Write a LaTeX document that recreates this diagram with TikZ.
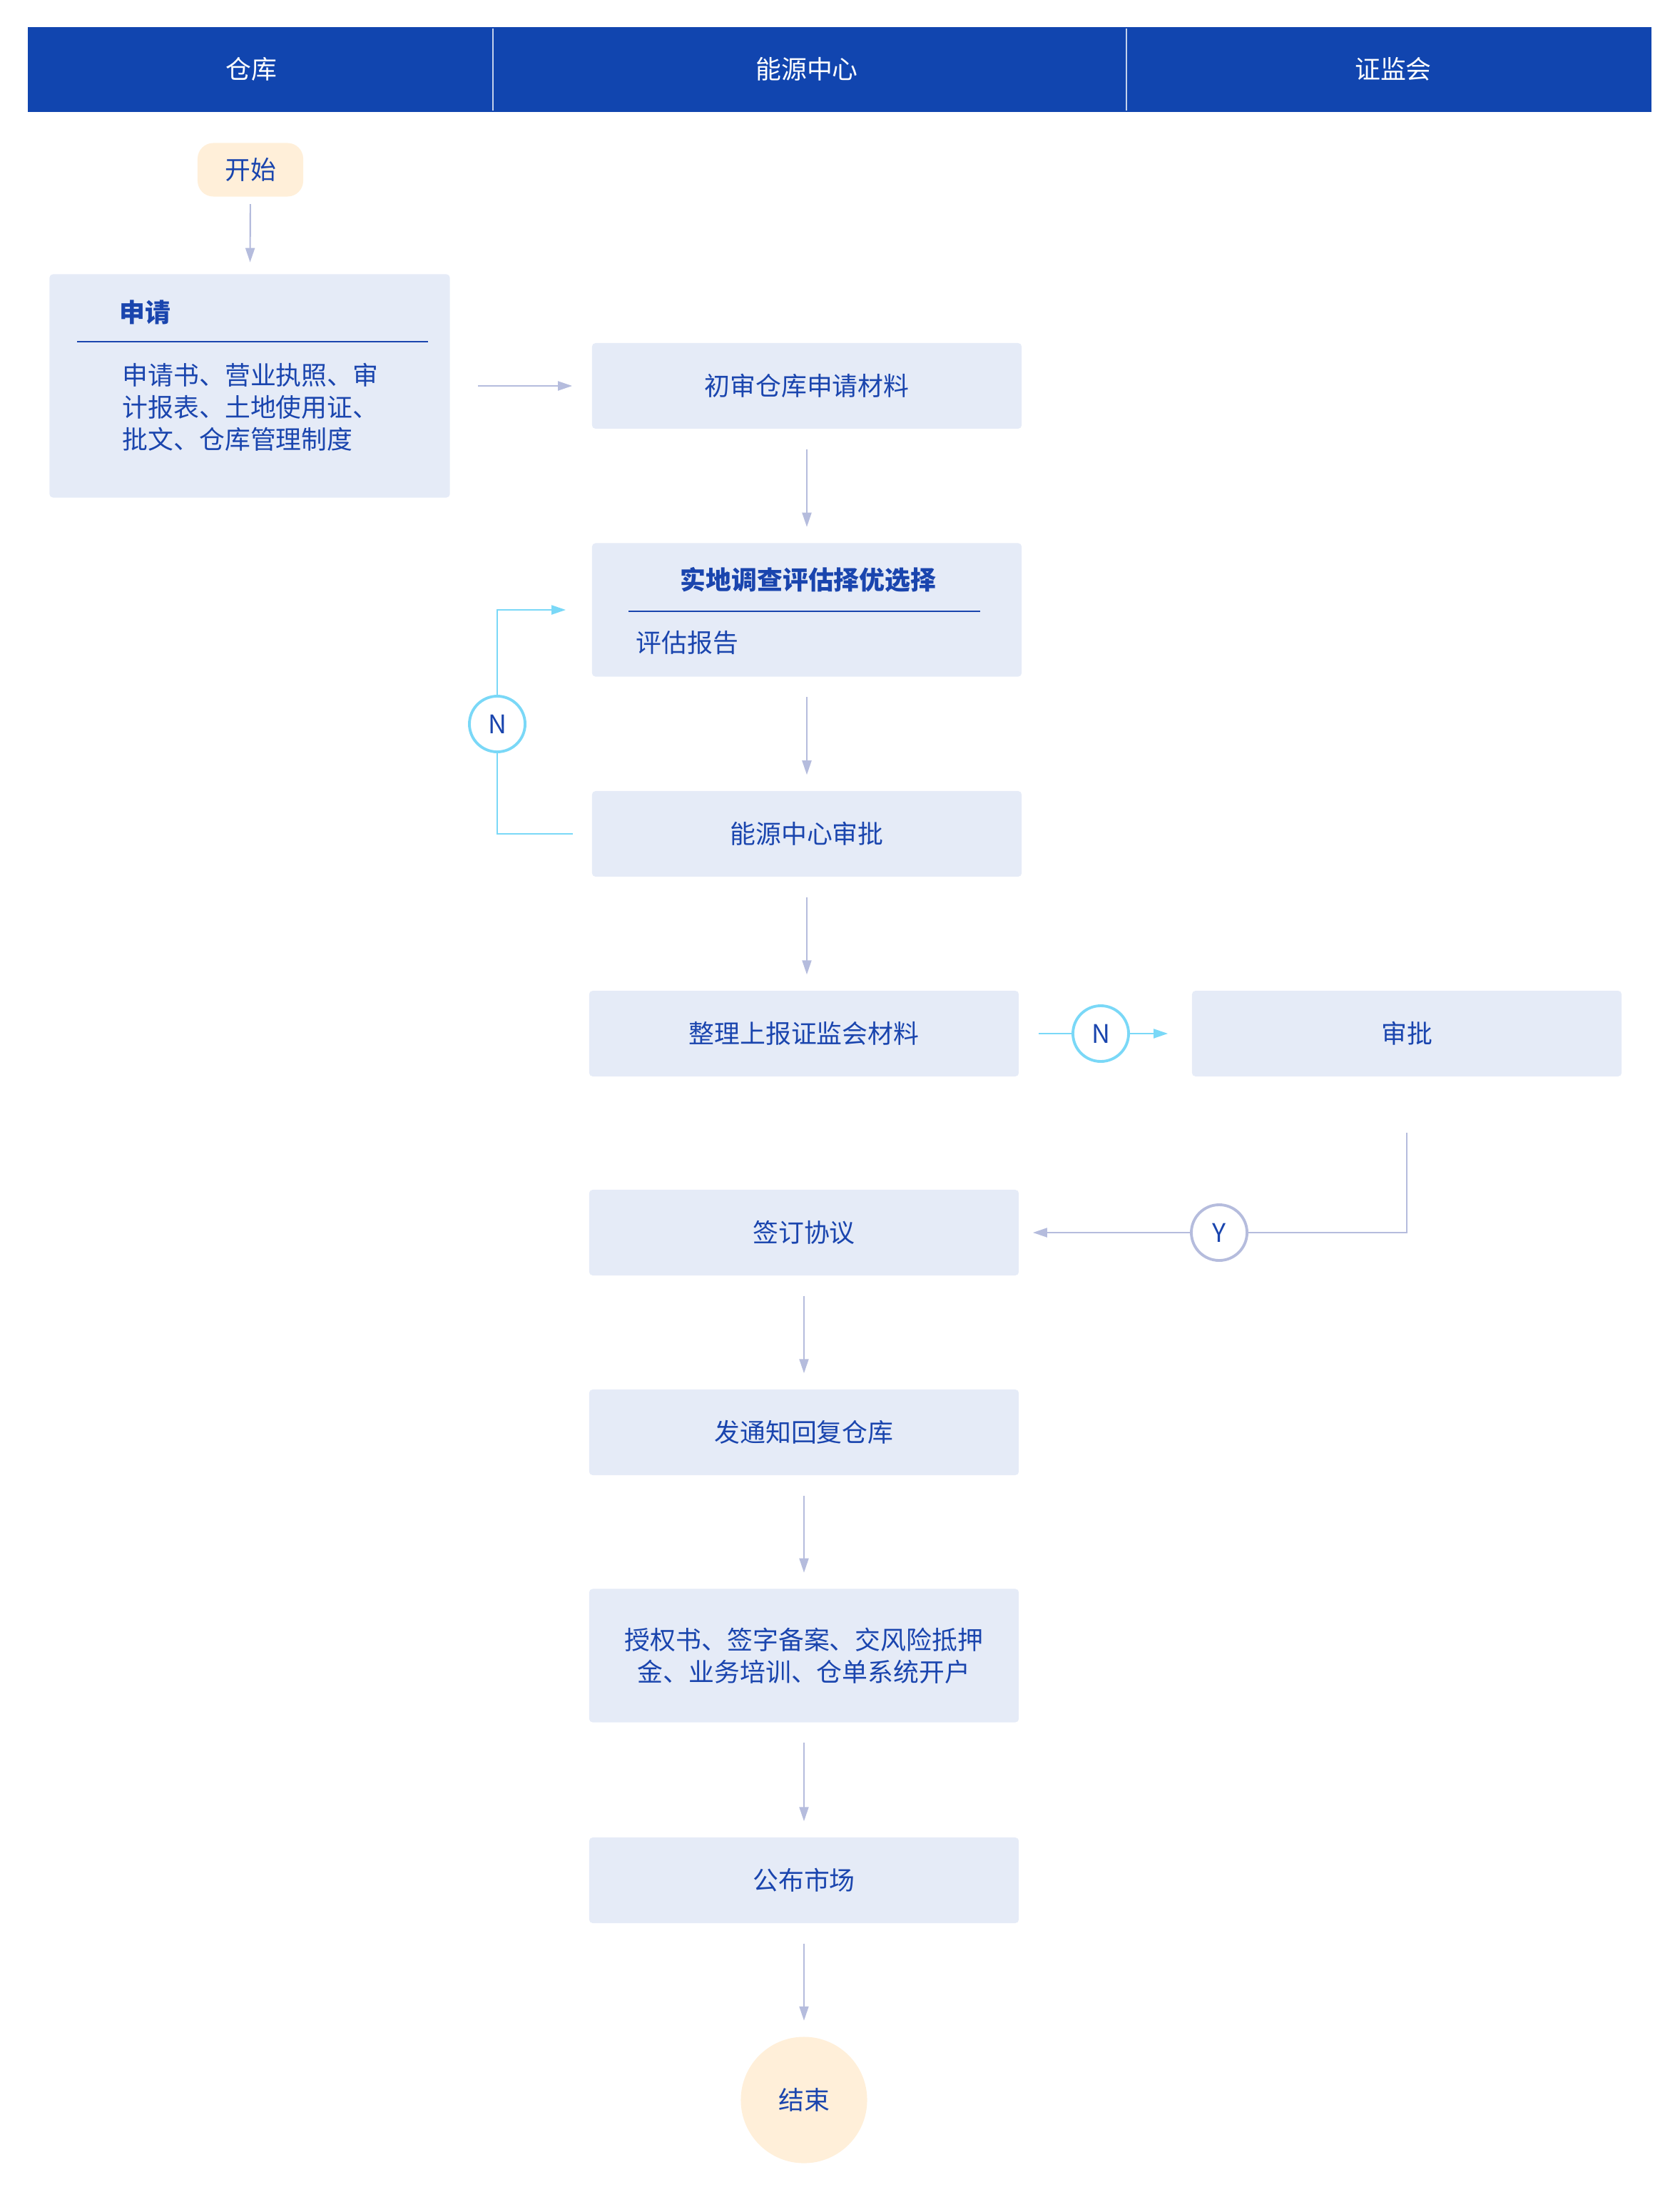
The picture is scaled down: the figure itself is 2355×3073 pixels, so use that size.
\documentclass[tikz,border=0pt]{standalone}
\usepackage{fontspec}
\setmainfont{Noto Sans CJK SC}
\usetikzlibrary{arrows.meta}

\definecolor{headblue}{HTML}{1145AF}
\definecolor{txtblue}{HTML}{1A45AE}
\definecolor{boxfill}{HTML}{E5EBF7}
\definecolor{capfill}{HTML}{FFEFD9}
\definecolor{flowline}{HTML}{B5BCDD}
\definecolor{noline}{HTML}{7AD8F7}
\newcommand\flowfont{\fontsize{10.2pt}{12.8pt}\selectfont}

\tikzset{
  flowbox/.style={fill=boxfill, rounded corners=0.05cm, inner sep=0pt,
    minimum width=6.02cm, minimum height=1.2cm, text=txtblue, font=\flowfont},
  capnode/.style={fill=capfill, inner sep=0pt, text=txtblue, font=\flowfont},
  boxtext/.style={anchor=west, inner sep=0pt, text=txtblue, font=\flowfont},
  flowarrow/.style={draw=flowline, line width=0.6pt,
    -{Triangle[length=0.2cm,width=0.13cm]}, shorten <=0.28cm, shorten >=0.22cm},
  flowplain/.style={draw=flowline, line width=0.6pt},
  noarrow/.style={draw=noline, line width=0.6pt},
  decision/.style={circle, fill=white, line width=1.1pt, minimum size=0.78cm,
    inner sep=0pt, text=txtblue, font=\flowfont},
  rule/.style={draw=txtblue, line width=0.8pt}
}

\begin{document}
\begin{tikzpicture}[x=0.01cm, y=-0.01cm]
  \useasboundingbox (0,0) rectangle (2355,3073);

  % lanes
  \fill[headblue] (39,38) rectangle (2315,157);
  \foreach \xd in {691,1579}
    \draw[white!75!headblue, line width=0.3pt] (\xd,40) -- (\xd,155);
  \foreach \i/\xc/\txt in {1/352/仓库, 2/1131/能源中心, 3/1953/证监会}
    \node[text=white, font=\flowfont] (h\i) at (\xc,97) {\txt};

  % warehouse
  \node[capnode, rounded corners=0.22cm, minimum width=1.48cm, minimum height=0.75cm]
    (start) at (351,238) {开始};
  \node[flowbox, minimum width=5.61cm, minimum height=3.13cm] (apply) at (350,541) {};
  \node[boxtext, font=\flowfont\bfseries] (applyt) at (167,438) {申请};
  \draw[rule] (108,479) -- (600,479);
  \node[boxtext, align=left] (applyb) at (171,571)
    {申请书、营业执照、审\\计报表、土地使用证、\\批文、仓库管理制度};

  % energy centre
  \node[flowbox] (first) at (1131,541) {初审仓库申请材料};
  \node[flowbox, minimum height=1.87cm] (survey) at (1131,855) {};
  \node[text=txtblue, inner sep=0pt, font=\flowfont\bfseries] (surveyt) at (1133,813)
    {实地调查评估择优选择};
  \draw[rule] (881,857) -- (1374,857);
  \node[boxtext] (surveyb) at (891,901) {评估报告};
  \node[flowbox] (audit) at (1131,1169) {能源中心审批};
  \node[flowbox] (report) at (1127,1449) {整理上报证监会材料};
  \node[flowbox] (sign) at (1127,1728) {签订协议};
  \node[flowbox] (notice) at (1127,2008) {发通知回复仓库};
  \node[flowbox, minimum height=1.87cm, align=center] (auth) at (1127,2321)
    {授权书、签字备案、交风险抵押\\金、业务培训、仓单系统开户};
  \node[flowbox] (market) at (1127,2636) {公布市场};
  \node[capnode, circle, minimum size=1.77cm] (end) at (1127,2944) {结束};

  % regulator
  \node[flowbox] (approve) at (1972,1449) {审批};

  % connectors
  \draw[flowarrow, shorten <=0.1cm, shorten >=0.16cm] (start) -- (apply);
  \draw[flowarrow, shorten <=0.39cm, shorten >=0.27cm] (apply.east) -- (first.west);
  \foreach \a/\b in {first/survey, survey/audit, sign/notice, notice/auth,
                     auth/market, market/end}
    \draw[flowarrow] (\a) -- (\b);
  \draw[flowarrow] (audit.south) -- (audit.south |- report.north);

  \node[decision, draw=noline] (nloop) at (697,1015) {N};
  \draw[noarrow, shorten <=0.26cm] (audit.west) -| (nloop);
  \draw[noarrow, -{Triangle[length=0.2cm,width=0.13cm]}, shorten >=0.36cm]
    (nloop) |- (survey.west);

  \node[decision, draw=noline] (nmid) at (1543,1449) {N};
  \draw[noarrow, shorten <=0.27cm] (report.east) -- (nmid);
  \draw[noarrow, -{Triangle[length=0.2cm,width=0.13cm]}, shorten >=0.33cm]
    (nmid) -- (approve.west);

  \node[decision, draw=flowline] (nyes) at (1709,1728) {Y};
  \draw[flowplain, shorten <=0.78cm] (approve.south) |- (nyes);
  \draw[flowarrow, shorten <=0pt, shorten >=0.19cm] (nyes) -- (sign.east);
\end{tikzpicture}
\end{document}
